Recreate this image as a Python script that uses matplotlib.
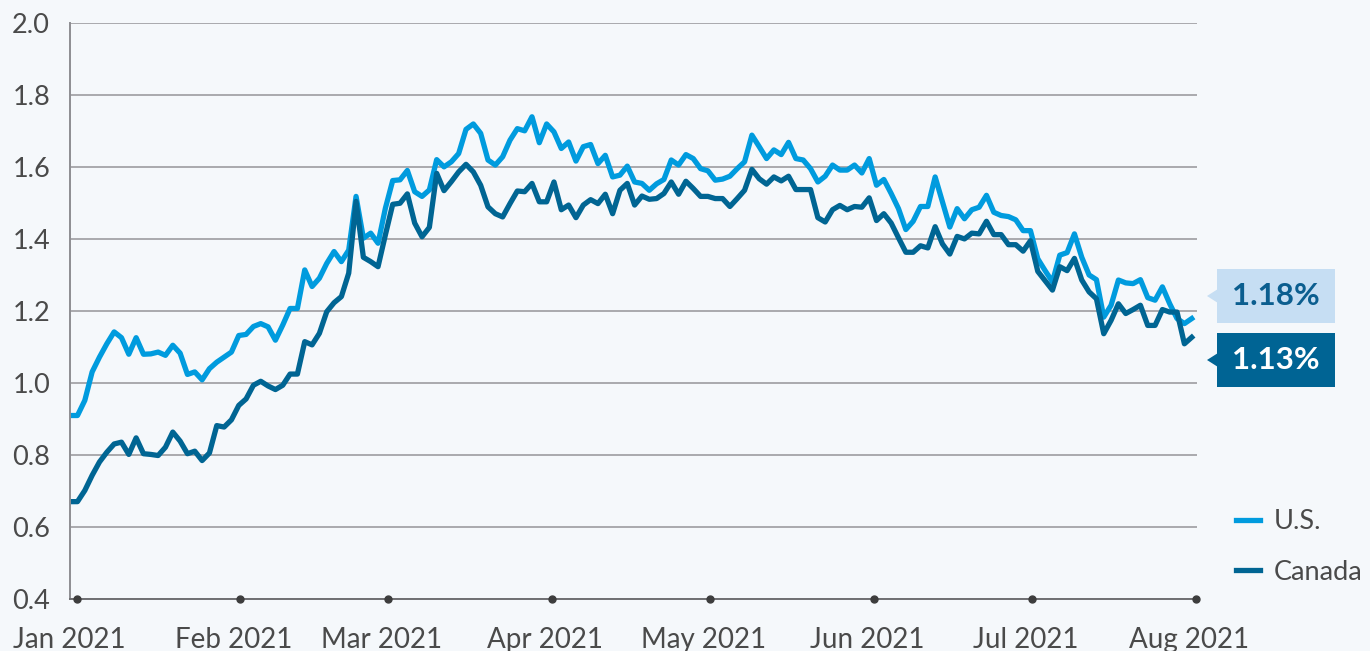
import pandas as pd
import matplotlib.pyplot as plt
from matplotlib.patches import Polygon, Rectangle
from matplotlib.transforms import ScaledTranslation

# 10-year yields (%), one value per trading day
us = [0.910, 0.910, 0.952, 1.031, 1.072, 1.109, 1.142, 1.126, 1.080, 1.126,
      1.080, 1.081, 1.086, 1.077, 1.105, 1.083, 1.024, 1.031, 1.009, 1.040,
      1.058, 1.072, 1.086, 1.132, 1.135, 1.157, 1.165,
      1.156, 1.119, 1.161, 1.207, 1.207, 1.314, 1.268, 1.291, 1.332, 1.365,
      1.337, 1.369, 1.518, 1.402, 1.416, 1.388, 1.485, 1.562, 1.564, 1.590,
      1.531, 1.518, 1.536, 1.620,
      1.600, 1.614, 1.637, 1.704, 1.719, 1.693, 1.619, 1.605,
      1.628, 1.674, 1.706, 1.700, 1.739, 1.667, 1.719, 1.697, 1.651, 1.669,
      1.616, 1.656, 1.662, 1.609, 1.632, 1.572, 1.577, 1.602, 1.558, 1.554,
      1.535,
      1.553, 1.565, 1.619, 1.605, 1.634, 1.623, 1.595, 1.589, 1.563, 1.566,
      1.574, 1.595, 1.614, 1.688, 1.656, 1.623, 1.647, 1.634, 1.668, 1.623,
      1.619, 1.595, 1.558, 1.574, 1.605, 1.591, 1.591,
      1.605, 1.583, 1.623, 1.549, 1.565, 1.526, 1.484, 1.426, 1.449, 1.490,
      1.490, 1.572, 1.502, 1.433, 1.484, 1.456, 1.481, 1.488, 1.521, 1.474,
      1.465, 1.462, 1.453, 1.423, 1.423,
      1.345, 1.312, 1.281, 1.355, 1.362, 1.414, 1.349, 1.300, 1.287, 1.183,
      1.216, 1.286, 1.278, 1.276, 1.287, 1.237, 1.230, 1.267, 1.220, 1.179,
      1.165, 1.179]

canada = [0.671, 0.671, 0.702, 0.744, 0.781, 0.808, 0.831, 0.836, 0.802, 0.848,
          0.804, 0.802, 0.799, 0.822, 0.864, 0.839, 0.804, 0.811, 0.785, 0.806,
          0.882, 0.878, 0.898, 0.938, 0.956, 0.994, 1.005,
          0.992, 0.982, 0.994, 1.025, 1.025, 1.115, 1.106, 1.138, 1.198, 1.223,
          1.240, 1.305, 1.504, 1.349, 1.337, 1.323, 1.411, 1.496, 1.499, 1.525,
          1.444, 1.406, 1.432, 1.582,
          1.534, 1.559, 1.586, 1.607, 1.586, 1.549, 1.489, 1.470,
          1.461, 1.498, 1.533, 1.531, 1.554, 1.503, 1.503, 1.558, 1.481, 1.494,
          1.459, 1.494, 1.509, 1.498, 1.524, 1.470, 1.535, 1.554, 1.494, 1.519,
          1.510,
          1.512, 1.526, 1.558, 1.524, 1.560, 1.540, 1.518, 1.518, 1.512, 1.512,
          1.490, 1.512, 1.535, 1.593, 1.567, 1.552, 1.572, 1.561, 1.574, 1.537,
          1.537, 1.537, 1.459, 1.447, 1.481, 1.493, 1.481,
          1.490, 1.488, 1.514, 1.451, 1.470, 1.444, 1.403, 1.363, 1.363, 1.381,
          1.375, 1.434, 1.386, 1.358, 1.407, 1.400, 1.416, 1.414, 1.449, 1.412,
          1.412, 1.384, 1.384, 1.366, 1.395,
          1.310, 1.284, 1.258, 1.323, 1.312, 1.346, 1.286, 1.253, 1.234, 1.137,
          1.174, 1.220, 1.193, 1.204, 1.216, 1.160, 1.160, 1.204, 1.197, 1.197,
          1.109, 1.127]

series_names = ["U.S.", "Canada"]
y_ticks = [0.4, 0.6, 0.8, 1.0, 1.2, 1.4, 1.6, 1.8, 2.0]

BG = "#f5f8fb"
US_COLOR = "#009bde"
CA_COLOR = "#006593"
GRID = "#a9a9ad"
TEXT = "#4a4a4a"
W, H = 1370, 651

plt.rcParams['font.family'] = ['Lato', 'DejaVu Sans']

dates = pd.date_range("2020-12-30 18:00", "2021-07-31 05:00", periods=len(us))
months = pd.date_range("2021-01-01", "2021-08-01", freq="MS")

fig = plt.figure(figsize=(W / 100, H / 100), dpi=100, facecolor=BG)
ax = fig.add_axes([69.5 / W, 1 - 599.3 / H, (1197 - 69.5) / W, (599.3 - 22.7) / H])
ax.set_facecolor(BG)

ax.plot(dates, us, color=US_COLOR, lw=3.8, label=series_names[0])
ax.plot(dates, canada, color=CA_COLOR, lw=3.8, label=series_names[1])

ax.set_xlim(pd.Timestamp("2020-12-30 15:00"), pd.Timestamp("2021-08-01 05:00"))
ax.set_ylim(0.4, 2.0)
ax.set_yticks(y_ticks)
ax.set_yticklabels([f"{v:.1f}" for v in y_ticks])
ax.set_xticks(months)
ax.set_xticklabels([d.strftime("%b %Y") for d in months])

ax.yaxis.grid(True, color=GRID, lw=1.4)
ax.set_axisbelow(True)
for s in ["top", "right"]:
    ax.spines[s].set_visible(False)
ax.spines["left"].set_color("#8e8e92")
ax.spines["left"].set_linewidth(1.4)
ax.spines["bottom"].set_color("#6f6f72")
ax.spines["bottom"].set_linewidth(1.4)

ax.tick_params(axis="y", length=0, pad=14, labelsize=19.5, labelcolor=TEXT)
ax.tick_params(axis="x", length=0, pad=20, labelsize=20, labelcolor=TEXT)
shift = ScaledTranslation(-0.07, 0, fig.dpi_scale_trans)
for lab in ax.get_xticklabels():
    lab.set_transform(lab.get_transform() + shift)

# month dots on the baseline
ax.plot(months, [y_ticks[0]] * len(months), "o", color="#3d3d3d", ms=5,
        clip_on=False, zorder=5)

ax.legend(loc="center left", bbox_to_anchor=(1236 / W, 1 - 547 / H),
          bbox_transform=fig.transFigure, frameon=False, fontsize=19.5,
          labelcolor=TEXT, handlelength=0.9, handletextpad=0.5,
          labelspacing=0.95, borderpad=0, borderaxespad=0)


def callout(text, yc, face, tcolor):
    left, right, half = 1217, 1335, 27
    fig.add_artist(Rectangle((left / W, 1 - (yc + half) / H),
                             (right - left) / W, 2 * half / H,
                             transform=fig.transFigure, facecolor=face,
                             edgecolor="none"))
    fig.add_artist(Polygon([(1207 / W, 1 - yc / H),
                            (1218 / W, 1 - (yc - 7) / H),
                            (1218 / W, 1 - (yc + 7) / H)],
                           closed=True, transform=fig.transFigure,
                           facecolor=face, edgecolor="none"))
    fig.text((left + right) / 2 / W, 1 - yc / H, text, ha="center",
             va="center", fontsize=22.5, fontweight="bold", color=tcolor)


callout(f"{us[-1]:.2f}%", 296, "#c6def3", "#0b5e8f")
callout(f"{canada[-1]:.2f}%", 360, "#006494", "white")

fig.savefig("out.png", dpi=100, facecolor=BG)
